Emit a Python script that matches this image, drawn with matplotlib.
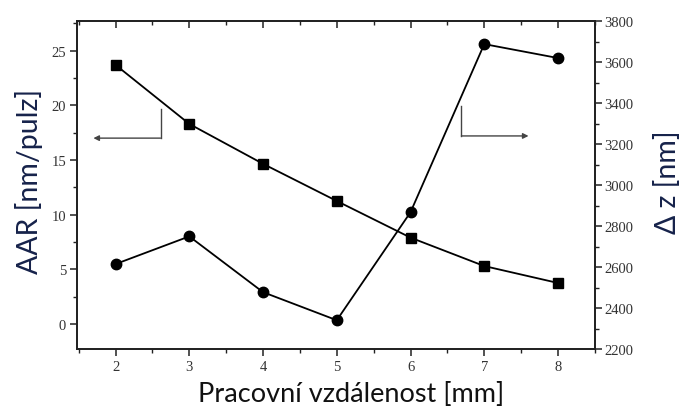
import matplotlib
matplotlib.use("Agg")
import matplotlib.pyplot as plt
from matplotlib.ticker import MultipleLocator

# Working distance [mm]
distance = [2, 3, 4, 5, 6, 7, 8]
# Average ablation rate per pulse (left axis, squares)
aar = [23.7, 18.3, 14.65, 11.25, 7.9, 5.3, 3.75]
# Depth difference (right axis, circles)
delta_z = [2615, 2750, 2478, 2341, 2868, 3688, 3620]

left_ticks = [0, 5, 10, 15, 20, 25]
right_ticks = [2200, 2400, 2600, 2800, 3000, 3200, 3400, 3600, 3800]
x_ticks = [2, 3, 4, 5, 6, 7, 8]

label_font = "Lato"
tick_font = "Liberation Serif"
label_color = "#16224a"
tick_color = "#333333"

fig = plt.figure(figsize=(6.83, 4.10), dpi=100)
ax = fig.add_axes([0.113, 0.146, 0.758, 0.800])
ax2 = ax.twinx()

ax.plot(distance, aar, color="black", lw=1.3, marker="s", ms=7, zorder=3)
ax2.plot(distance, delta_z, color="black", lw=1.3, marker="o", ms=7.5, zorder=3)

ax.set_xlim(1.48, 8.5)
ax.set_ylim(-2.3, 27.7)
ax2.set_ylim(2200, 3800)

ax.set_xticks(x_ticks)
ax.set_yticks(left_ticks)
ax2.set_yticks(right_ticks)
ax.xaxis.set_minor_locator(MultipleLocator(0.5))
ax.yaxis.set_minor_locator(MultipleLocator(2.5))
ax2.yaxis.set_minor_locator(MultipleLocator(100))

for a in (ax, ax2):
    for s in a.spines.values():
        s.set_linewidth(1.3)
        s.set_color("#222222")

ax.tick_params(axis="x", which="major", direction="out", length=5, width=1.1,
               top=True, colors="#222222", labelcolor=tick_color, pad=3)
ax.tick_params(axis="x", which="minor", direction="out", length=3, width=1.0,
               top=True, colors="#222222")
ax.tick_params(axis="y", which="major", direction="out", length=5, width=1.1,
               colors="#222222", labelcolor=tick_color, pad=3)
ax.tick_params(axis="y", which="minor", direction="out", length=3, width=1.0,
               colors="#222222")
ax2.tick_params(axis="y", which="major", direction="out", length=5, width=1.1,
                colors="#222222", labelcolor=tick_color, pad=2)
ax2.tick_params(axis="y", which="minor", direction="out", length=3, width=1.0,
                colors="#222222")
# top ticks point into the plot
for t in ax.xaxis.get_major_ticks() + ax.xaxis.get_minor_ticks():
    t.tick2line.set_marker(matplotlib.lines.TICKDOWN)

for lab in ax.get_xticklabels() + ax.get_yticklabels() + ax2.get_yticklabels():
    lab.set_fontfamily(tick_font)
    lab.set_fontsize(10.5)

ax.set_xlabel("Pracovní vzdálenost [mm]", fontsize=19.5, family=label_font,
              color="#111111", va="top")
ax.xaxis.set_label_coords(0.53, -0.097)
ax.set_ylabel("AAR [nm/pulz]", fontsize=20.5, family=label_font,
              color=label_color, va="center")
ax.yaxis.set_label_coords(-0.094, 0.515)
ax2.set_ylabel("Δ z [nm]", fontsize=20.5, family=label_font,
               color=label_color, va="center")
ax2.yaxis.set_label_coords(1.141, 0.512)

# axis-indicator arrows
ax.annotate("", xy=(1.70, 17.0), xytext=(2.61, 17.0),
            arrowprops=dict(arrowstyle="-|>", color="#444444", lw=1.0,
                            mutation_scale=8, shrinkA=0, shrinkB=0))
ax.plot([2.61, 2.61], [17.0, 19.7], color="#444444", lw=1.0)
ax.annotate("", xy=(7.60, 17.2), xytext=(6.69, 17.2),
            arrowprops=dict(arrowstyle="-|>", color="#444444", lw=1.0,
                            mutation_scale=8, shrinkA=0, shrinkB=0))
ax.plot([6.69, 6.69], [17.2, 19.9], color="#444444", lw=1.0)

fig.savefig("out.png", dpi=100)
